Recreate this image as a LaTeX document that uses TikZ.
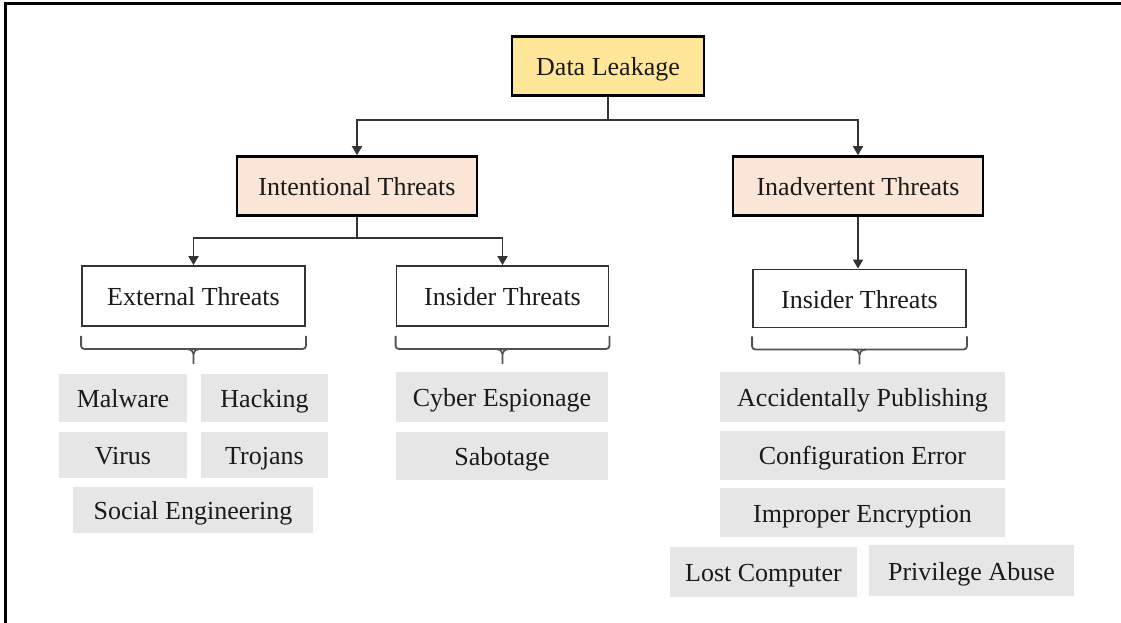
\documentclass[tikz,border=0pt]{standalone}
\usepackage{fontspec}
\setmainfont{Liberation Serif}
\usetikzlibrary{arrows.meta,calc}
\definecolor{dlfill}{HTML}{FFE699}
\definecolor{thfill}{HTML}{FBE5D6}
\definecolor{leaf}{HTML}{E6E6E6}
\definecolor{txt}{HTML}{1A1A1A}
\definecolor{lnc}{HTML}{333333}
\begin{document}
\begin{tikzpicture}[x=1pt,y=-1pt,
  font=\fontsize{26}{30}\selectfont, text=txt,
  base/.style={rectangle, inner sep=0pt, anchor=center, align=center, text height=20pt, text depth=1pt},
  topbox/.style={base, draw=black, line width=2.6pt, fill=dlfill},
  midbox/.style={base, draw=black, line width=2.6pt, fill=thfill},
  subbox/.style={base, draw=lnc, line width=1.8pt, fill=white},
  leafbox/.style={base, fill=leaf},
  conn/.style={draw=lnc, line width=1.8pt},
  arr/.style={conn, -{Triangle[length=9pt,width=10pt]}},
  brace/.style={draw=lnc!85, line width=1.8pt, rounded corners=3pt}
]
\useasboundingbox (0,0) rectangle (1121,623);
% frame
\draw[line width=3pt, black] (1121,4) -- (5,4) -- (5,623);

% nodes
\node[topbox, minimum width=192pt, minimum height=59pt] (dl) at (608,66) {Data Leakage};
\node[midbox, minimum width=240pt, minimum height=59pt] (it) at (357,186) {Intentional Threats};
\node[midbox, minimum width=250pt, minimum height=59pt] (iat) at (858,186) {Inadvertent Threats};
\node[subbox, minimum width=223pt, minimum height=60pt] (ext) at (193.5,296) {External Threats};
\node[subbox, minimum width=212pt, minimum height=60pt] (ins1) at (502.5,296) {Insider Threats};
\node[subbox, minimum width=213pt, minimum height=58pt] (ins2) at (859.5,298.5) {Insider Threats};

\node[leafbox, minimum width=128pt, minimum height=48pt] (mal) at (123,398) {Malware};
\node[leafbox, minimum width=127pt, minimum height=48pt] (hack) at (264.5,398) {Hacking};
\node[leafbox, minimum width=128pt, minimum height=46pt] (vir) at (123,455) {Virus};
\node[leafbox, minimum width=127pt, minimum height=46pt] (troj) at (264.5,455) {Trojans};
\node[leafbox, minimum width=240pt, minimum height=46pt] (soc) at (193,510) {Social Engineering};

\node[leafbox, minimum width=212pt, minimum height=50pt] (cyb) at (502,397) {Cyber Espionage};
\node[leafbox, minimum width=212pt, minimum height=48pt] (sab) at (502,456) {Sabotage};

\node[leafbox, minimum width=285pt, minimum height=50pt] (acc) at (862.5,397) {Accidentally Publishing};
\node[leafbox, minimum width=285pt, minimum height=49pt] (conf) at (862.5,455) {Configuration Error};
\node[leafbox, minimum width=285pt, minimum height=49pt] (impr) at (862.5,512.5) {Improper Encryption};
\node[leafbox, minimum width=187pt, minimum height=50pt] (lost) at (763.5,571.5) {Lost Computer};
\node[leafbox, minimum width=205pt, minimum height=51pt] (priv) at (971.5,570.5) {Privilege Abuse};

% connectors
\coordinate (j1) at ($(dl.south)+(0,23.5)$);
\draw[arr] (dl.south) -- (j1) -| (it.north);
\draw[arr] (dl.south) -- (j1) -| (iat.north);
\coordinate (j2) at ($(it.south)+(0,21)$);
\draw[arr] (it.south) -- (j2) -| (ext.north);
\draw[arr] (it.south) -- (j2) -| (ins1.north);
\draw[arr] (iat.south) -- (iat.south |- ins2.north);

% braces
\foreach \b/\t in {ext/9,ins1/9,ins2/8}{
  \draw[brace] ($(\b.south west)+(0,\t)$) -- ($(\b.south west)+(0,\t+13)$) -- ($(\b.south east)+(0,\t+13)$) -- ($(\b.south east)+(0,\t)$);
  \draw[draw=lnc!85, line width=1.8pt] ($(\b.south)+(-6,\t+13)$) to[out=0,in=90] ($(\b.south)+(0,\t+18)$) -- ($(\b.south)+(0,\t+28)$);
  \draw[draw=lnc!85, line width=1.8pt] ($(\b.south)+(6,\t+13)$) to[out=180,in=90] ($(\b.south)+(0,\t+18)$);
}
\end{tikzpicture}
\end{document}
